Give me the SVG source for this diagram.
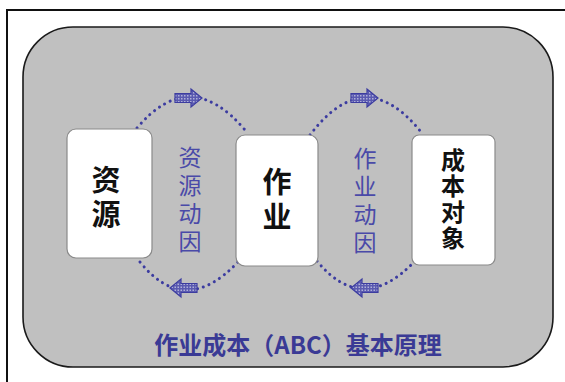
<svg xmlns="http://www.w3.org/2000/svg" width="565" height="382" viewBox="0 0 565 382">
<defs>
<style>
.frame{stroke:#111;stroke-width:2;fill:none}
.panel{fill:#c0c0c0;stroke:#1a1a1a;stroke-width:1.6}
.box{fill:#fff;stroke:#8a8a8a;stroke-width:1.2}
.vt{writing-mode:vertical-rl;text-orientation:upright;text-anchor:middle}
.big{font-family:"Noto Sans CJK SC","Noto Sans CJK TC",sans-serif;font-weight:bold;fill:#111}
.drv{font-family:"Noto Sans CJK SC","Noto Sans CJK TC",sans-serif;font-weight:normal;fill:#4a4aa8;font-size:23px;letter-spacing:5px}
.title{font-family:"Noto Sans CJK SC","Noto Sans CJK TC",sans-serif;font-weight:bold;fill:#3a3a95;font-size:24px;text-anchor:middle;dominant-baseline:central}
.dots{fill:none;stroke:#3c3ca0;stroke-width:3;stroke-dasharray:0.1 6;stroke-linecap:round}
.arr{fill:url(#hatch);stroke:#3c3ca0;stroke-width:1.2}
</style>
<pattern id="hatch" width="3" height="3" patternUnits="userSpaceOnUse">
<rect width="3" height="3" fill="#5a5ab0"/>
<rect width="1.5" height="1.5" fill="#b0b0d8"/>
</pattern>
<path id="arrow" d="M-27,-4.5 H-11 V-9 L0,0 L-11,9 V4.5 H-27 Z"/>
</defs>
<rect width="565" height="382" fill="#fff"/>
<path class="frame" d="M7,382 V10 H565"/>
<rect class="panel" x="23" y="27" width="530" height="340" rx="50" ry="50"/>
<g id="connectors">
<path class="dots" d="M137,128 Q190,65 245,130"/>
<path class="dots" d="M310,135 Q365,62 421,132"/>
<path class="dots" d="M140,262 Q185,318 238,262"/>
<path class="dots" d="M317,261 Q362,316 414,262"/>
<use href="#arrow" class="arr" transform="translate(202,98)"/>
<use href="#arrow" class="arr" transform="translate(378,98)"/>
<use href="#arrow" class="arr" transform="translate(170,288) rotate(180)"/>
<use href="#arrow" class="arr" transform="translate(351,288) rotate(180)"/>
</g>
<g id="node-resource">
<rect class="box" x="67" y="129" width="85" height="129" rx="9"/>
<text class="big vt" font-size="29" letter-spacing="5" x="106" y="199">资源</text>
</g>
<g id="node-activity">
<rect class="box" x="236" y="135" width="82" height="131" rx="9"/>
<text class="big vt" font-size="29" letter-spacing="6" x="277" y="202">作业</text>
</g>
<g id="node-costobject">
<rect class="box" x="412" y="135" width="83" height="130" rx="7"/>
<text class="big vt" font-size="24" letter-spacing="2" x="453" y="200">成本对象</text>
</g>
<g id="label-resource-driver">
<text class="drv vt" x="190" y="202">资源动因</text>
</g>
<g id="label-activity-driver">
<text class="drv vt" x="365" y="203">作业动因</text>
</g>
<g id="title">
<text class="title" x="298" y="343">作业成本（ABC）基本原理</text>
</g>
</svg>
